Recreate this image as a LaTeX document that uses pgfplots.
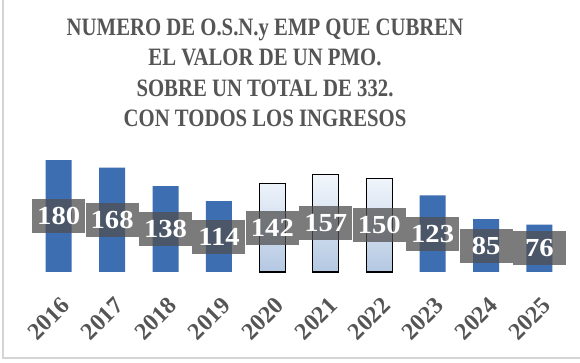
\documentclass[border=0pt]{standalone}
\usepackage{pgfplots}
\pgfplotsset{compat=1.18}
\usepackage{fontspec}
\setmainfont{Liberation Serif}
\newfontfamily\titlefont[FakeStretch=0.83]{Liberation Serif}
\newfontfamily\labfont[FakeStretch=1.1]{Liberation Serif}
\definecolor{barblue}{HTML}{3E6EB2}
\definecolor{lighttop}{HTML}{F3F7FC}
\definecolor{lightbot}{HTML}{B4C8E2}
\definecolor{labgray}{HTML}{505050}
\definecolor{txtgray}{HTML}{555555}
\definecolor{bgmid}{HTML}{E8E8E8}
\definecolor{frame}{HTML}{D4D4D4}
\begin{document}
\begin{tikzpicture}
\shade[top color=white, middle color=bgmid, bottom color=white] (-58.7pt,-91pt) rectangle (521.3pt,272pt);
\useasboundingbox (-58.7pt,-91pt) rectangle (521.3pt,272pt);
\draw[frame, line width=1.2pt] (-55.7pt,272pt) -- (-55.7pt,-86pt) -- (521.3pt,-86pt);
\begin{axis}[
  at={(-32.052pt,0pt)}, anchor=south west,
  x=53.42pt, y=0.622pt,
  xmin=-0.6, xmax=9.6, ymin=0, ymax=190,
  /pgf/number format/assume math mode=true,
  axis line style={draw=none},
  tick style={draw=none},
  ytick=\empty,
  xtick={0,...,9},
  xticklabels={2016,2017,2018,2019,2020,2021,2022,2023,2024,2025},
  xticklabel shift=25pt,
  xticklabel style={rotate=45, anchor=north east, inner sep=0pt, xshift=2pt,
    font=\bfseries\fontsize{24}{24}\selectfont, text=txtgray},
  clip=false,
  nodes near coords,
  visualization depends on={y \as \rawy},
  every node near coord/.append style={
    shift={(axis direction cs:0,-\rawy/2)}, anchor=center,
    fill=labgray, fill opacity=0.75, text opacity=1, text=white,
    font=\labfont\bfseries\fontsize{26}{26}\selectfont,
    minimum width=53pt, minimum height=34pt, inner sep=0pt},
]
\addplot[ybar, bar width=26pt, bar shift=0pt, fill=barblue, draw=none]
  coordinates {(0,180) (1,168) (2,138) (3,114) (7,123) (8,85) (9,76)};
\addplot[ybar, bar width=26pt, bar shift=0pt, draw=black, line width=1.2pt,
  top color=lighttop, bottom color=lightbot]
  coordinates {(4,142) (5,157) (6,150)};
\end{axis}
\node[align=center, text=txtgray, font=\titlefont\bfseries\fontsize{25}{30.5}\selectfont]
  at (206.3pt,199pt) {NUMERO DE O.S.N.y EMP QUE CUBREN\\EL VALOR DE UN PMO.\\SOBRE UN TOTAL DE 332.\\CON TODOS LOS INGRESOS};
\end{tikzpicture}
\end{document}
